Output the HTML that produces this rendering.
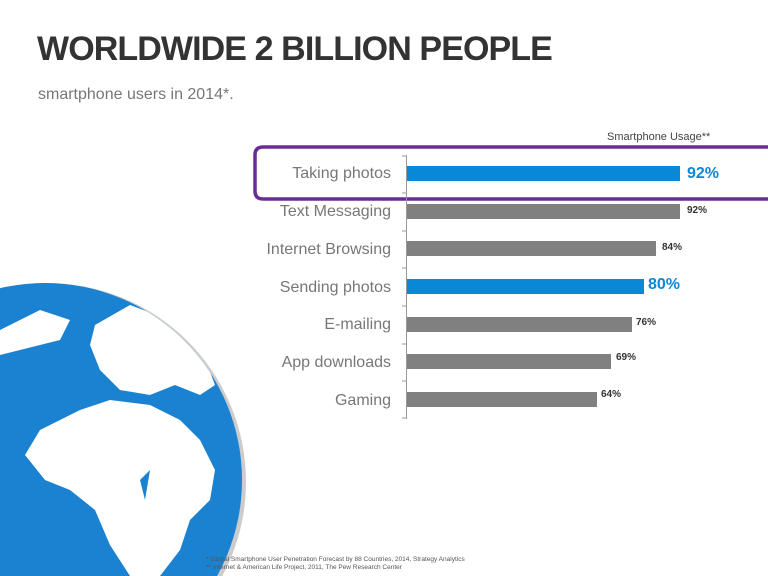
<!DOCTYPE html>
<html><head><meta charset="utf-8"><style>
html,body{margin:0;width:768px;height:576px;overflow:hidden}
body{background:#fff;font-family:"Liberation Sans",sans-serif;position:relative}
.t{position:absolute;white-space:nowrap}
.l{right:377px;font-size:16px;color:#777}
</style></head><body>
<svg width="768" height="576" style="position:absolute;left:0;top:0">
<defs><clipPath id="c"><circle cx="45" cy="480" r="197"/></clipPath></defs>
<circle cx="47" cy="482" r="199" fill="#999" opacity="0.5"/>
<circle cx="45" cy="480" r="197" fill="#1a82d0"/>
<g clip-path="url(#c)" fill="#fff">
<path d="M95 325 L130 305 L170 320 L200 345 L215 385 L200 395 L175 385 L150 395 L120 390 L100 370 L90 345Z"/>
<path d="M160 295 L200 300 L225 330 L232 370 L215 360 L190 340 L170 320Z"/>
<path d="M40 430 L80 410 L110 400 L150 405 L180 420 L200 440 L215 470 L210 500 L190 520 L180 550 L160 576 L130 576 L110 545 L95 510 L70 490 L45 480 L25 455Z"/>
<path d="M0 330 L40 310 L70 320 L60 340 L20 350 L0 355Z"/>
<path d="M110 340 L130 335 L120 350Z"/>
<path d="M140 480 L150 470 L145 500Z" fill="#1a82d0"/>
</g>
<path d="M255 155 Q255 147 263 147 L768 147 M255 155 L255 191 Q255 199 263 199 L768 199" fill="none" stroke="#6b2d91" stroke-width="3.5"/>
<line x1="406.5" y1="155" x2="406.5" y2="419" stroke="#999" stroke-width="1"/>
<g stroke="#999"><line x1="402" y1="156" x2="407" y2="156"/><line x1="402" y1="193" x2="407" y2="193"/><line x1="402" y1="231" x2="407" y2="231"/><line x1="402" y1="268" x2="407" y2="268"/><line x1="402" y1="306" x2="407" y2="306"/><line x1="402" y1="344" x2="407" y2="344"/><line x1="402" y1="381" x2="407" y2="381"/><line x1="402" y1="418" x2="407" y2="418"/></g>
<rect x="407" y="166" width="273" height="15" fill="#0a88d8"/>
<rect x="407" y="204" width="273" height="15" fill="#808080"/>
<rect x="407" y="241" width="249" height="15" fill="#808080"/>
<rect x="407" y="279" width="237" height="15" fill="#0a88d8"/>
<rect x="407" y="317" width="225" height="15" fill="#808080"/>
<rect x="407" y="354" width="204" height="15" fill="#808080"/>
<rect x="407" y="392" width="190" height="15" fill="#808080"/>
</svg>
<div class="t" style="left:37px;top:30px;font-size:34px;font-weight:bold;color:#333;letter-spacing:-0.9px">WORLDWIDE 2 BILLION PEOPLE</div>
<div class="t" style="left:38px;top:86px;font-size:16px;color:#777">smartphone users in 2014*.</div>
<div class="t" style="left:607px;top:131px;font-size:11px;color:#444">Smartphone Usage**</div>
<div class="t l" style="top:165px">Taking photos</div>
<div class="t l" style="top:203px">Text Messaging</div>
<div class="t l" style="top:241px">Internet Browsing</div>
<div class="t l" style="top:279px">Sending photos</div>
<div class="t l" style="top:316px">E-mailing</div>
<div class="t l" style="top:354px">App downloads</div>
<div class="t l" style="top:392px">Gaming</div>
<div class="t" style="left:687px;top:165px;font-size:16px;font-weight:bold;color:#0a88d8">92%</div>
<div class="t" style="left:687px;top:205px;font-size:10px;font-weight:bold;color:#333">92%</div>
<div class="t" style="left:662px;top:242px;font-size:10px;font-weight:bold;color:#333">84%</div>
<div class="t" style="left:648px;top:276px;font-size:16px;font-weight:bold;color:#0a88d8">80%</div>
<div class="t" style="left:636px;top:317px;font-size:10px;font-weight:bold;color:#333">76%</div>
<div class="t" style="left:616px;top:352px;font-size:10px;font-weight:bold;color:#333">69%</div>
<div class="t" style="left:601px;top:389px;font-size:10px;font-weight:bold;color:#333">64%</div>
<div class="t" style="left:206px;top:556px;font-size:6.5px;color:#555;line-height:8px">* Global Smartphone User Penetration Forecast by 88 Countries, 2014, Strategy Analytics<br>** Internet &amp; American Life Project, 2011, The Pew Research Center</div>
</body></html>
